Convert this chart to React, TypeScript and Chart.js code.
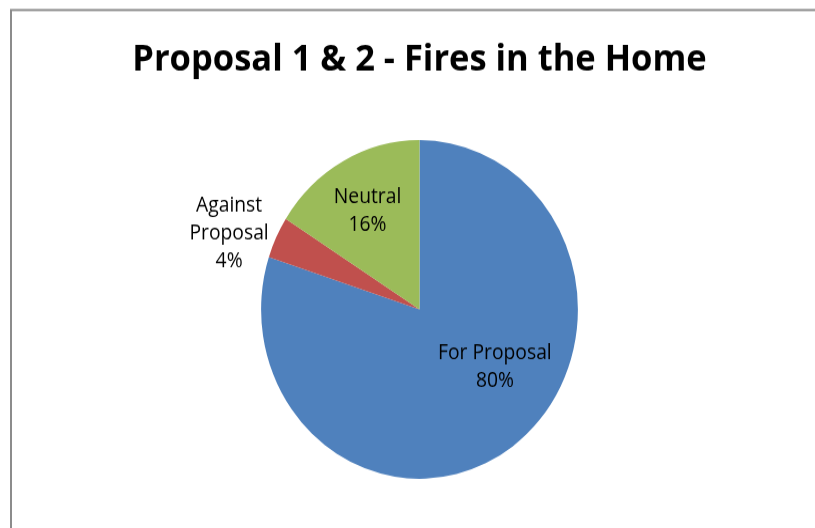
import React, { useEffect, useRef } from "react";
import { Chart, registerables } from "chart.js";

Chart.register(...registerables);

const TITLE = "Proposal 1 & 2 - Fires in the Home";
const categories = ["For Proposal", "Against Proposal", "Neutral"];
const values = [80, 4, 16];
const colors = ["#4F81BD", "#C0504D", "#9BBB59"];
// label placement relative to pie centre, in units of radius
const labelOffsets = [
  [0.476, 0.34],
  [-1.202, -0.448],
  [-0.328, -0.582],
];
const labelWrap = [false, true, false];

const W = 815;
const H = 528;
const SY = 1.0694; // reference image is stretched vertically
const IH = Math.round(H / SY);
const FONT = "'Open Sans', 'Noto Sans', sans-serif";

export default function App() {
  const ref = useRef<HTMLCanvasElement | null>(null);

  useEffect(() => {
    const canvas = ref.current!;
    const borderPlugin = {
      id: "frame",
      beforeDraw(chart: any) {
        const ctx = chart.ctx;
        ctx.save();
        ctx.fillStyle = "#ffffff";
        ctx.fillRect(0, 0, chart.width, chart.height);
        ctx.strokeStyle = "#8c8c8c";
        ctx.lineWidth = 2;
        ctx.strokeRect(11, 9.4, 2000, 2000);
        ctx.restore();
      },
    };
    const labelPlugin = {
      id: "sliceLabels",
      afterDatasetsDraw(chart: any) {
        const ctx = chart.ctx;
        const meta = chart.getDatasetMeta(0);
        const total = values.reduce((a, b) => a + b, 0);
        ctx.save();
        ctx.font = "19.3px " + FONT;
        ctx.fillStyle = "#000000";
        ctx.textAlign = "center";
        ctx.textBaseline = "middle";
        meta.data.forEach((arc: any, i: number) => {
          const r = arc.outerRadius;
          const cx = arc.x + labelOffsets[i][0] * r;
          const cy = arc.y + labelOffsets[i][1] * r;
          const name = categories[i];
          const lines = labelWrap[i] ? name.split(" ") : [name];
          lines.push(Math.round((values[i] / total) * 100) + "%");
          const lh = 26;
          const y0 = cy - ((lines.length - 1) * lh) / 2;
          lines.forEach((t, k) => ctx.fillText(t, cx, y0 + k * lh));
        });
        ctx.restore();
      },
    };
    const chart = new Chart(canvas, {
      type: "pie",
      data: {
        labels: categories,
        datasets: [
          {
            data: values,
            backgroundColor: colors,
            borderWidth: 0,
          },
        ],
      },
      options: {
        animation: false,
        responsive: false,
        devicePixelRatio: 1,
        layout: { padding: { left: 24, right: 0, top: 0, bottom: 46.1 } },
        plugins: {
          legend: { display: false },
          tooltip: { enabled: false },
          title: {
            display: true,
            text: TITLE,
            color: "#000000",
            font: { family: FONT, size: 34.5, weight: "bold", lineHeight: 1.2 },
            padding: { top: 35, bottom: 54.7 },
          },
        },
      },
      plugins: [borderPlugin, labelPlugin],
    });
    return () => chart.destroy();
  }, []);

  return (
    <div
      style={{
        position: "absolute",
        left: 0,
        top: 0,
        width: W,
        height: H,
        overflow: "hidden",
        background: "#fff",
      }}
    >
      <div style={{ transform: `scaleY(${H / IH})`, transformOrigin: "0 0" }}>
        <canvas
          ref={ref}
          width={W}
          height={IH}
          style={{ display: "block", width: W + "px", height: IH + "px" }}
        />
      </div>
    </div>
  );
}
